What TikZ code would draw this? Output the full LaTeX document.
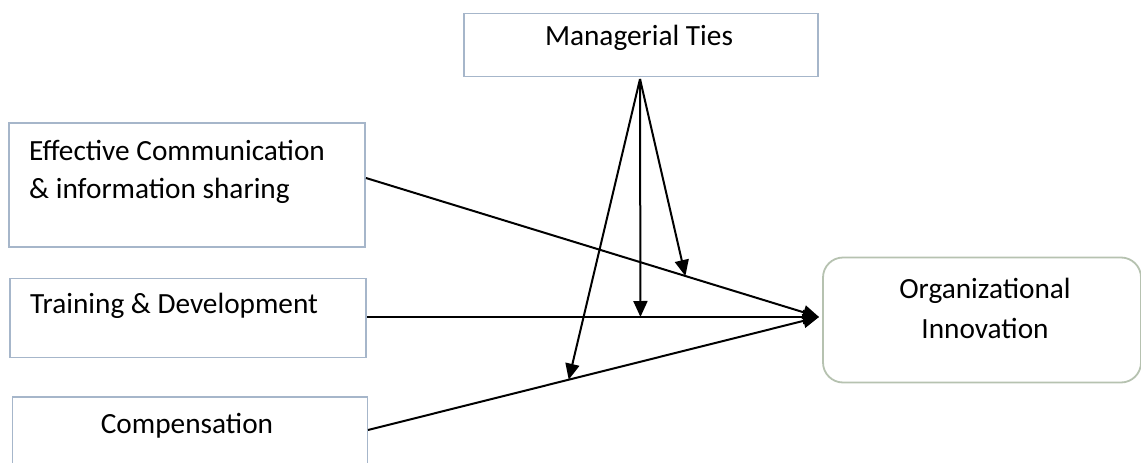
\documentclass[tikz,border=0pt]{standalone}
\usepackage{fontspec}
\setmainfont{Carlito}
\usetikzlibrary{arrows.meta}
\definecolor{boxline}{RGB}{166,182,202}
\definecolor{orgline}{RGB}{182,194,176}
\begin{document}
\begin{tikzpicture}[x=1pt,y=-1pt,
  varbox/.style={draw=boxline,line width=1.8pt,fill=white,rectangle,inner sep=0pt},
  orgbox/.style={draw=orgline,line width=1.8pt,fill=white,rectangle,rounded corners=20pt,inner sep=0pt},
  lbl/.style={inner sep=0pt,font=\fontsize{29.3}{39}\selectfont,text=black},
  link/.style={line width=2pt,-{Triangle[length=16pt,width=14pt]}}]
\useasboundingbox (0,0) rectangle (1141,463);
% boxes
\node[varbox,minimum width=354pt,minimum height=63pt] (mtbox) at (641,45) {};
\node[varbox,minimum width=356pt,minimum height=124pt] (ecbox) at (187,185) {};
\node[varbox,minimum width=356pt,minimum height=79pt] (tdbox) at (188,318) {};
\node[varbox,minimum width=355pt,minimum height=90pt] (cpbox) at (190,442) {};
\node[orgbox,minimum width=318pt,minimum height=125pt] (oibox) at (982,320) {};
% texts
\node[lbl,anchor=base] (mt) at (639,45) {Managerial Ties};
\node[lbl,anchor=base west] (ec1) at (29,160) {Effective Communication};
\node[lbl,anchor=base west] (ec2) at (29,198) {\& information sharing};
\node[lbl,anchor=base west] (td) at (30,313) {Training \& Development};
\node[lbl,anchor=base] (cp) at (187,433) {Compensation};
\node[lbl,anchor=base] (oi1) at (985,298) {Organizational};
\node[lbl,anchor=base] (oi2) at (985,338) {Innovation};
% connector end points
\coordinate (ecout) at (366,178);
\coordinate (tdout) at (367,317);
\coordinate (cpout) at (368,430);
\coordinate (oiin) at (819,317);
\coordinate (apex) at (640,79);
\draw[link] (ecout) -- (oiin);
\draw[link] (tdout) -- (oiin);
\draw[link] (cpout) -- (oiin);
\path (ecout) -- (oiin) coordinate[pos=0.705] (m1);
\path (tdout) -- (oiin) coordinate[pos=0.605] (m2);
\path (cpout) -- (oiin) coordinate[pos=0.445] (m3);
\draw[link] (apex) -- (m1);
\draw[link] (apex) -- (m2);
\draw[link] (apex) -- (m3);
\end{tikzpicture}
\end{document}
